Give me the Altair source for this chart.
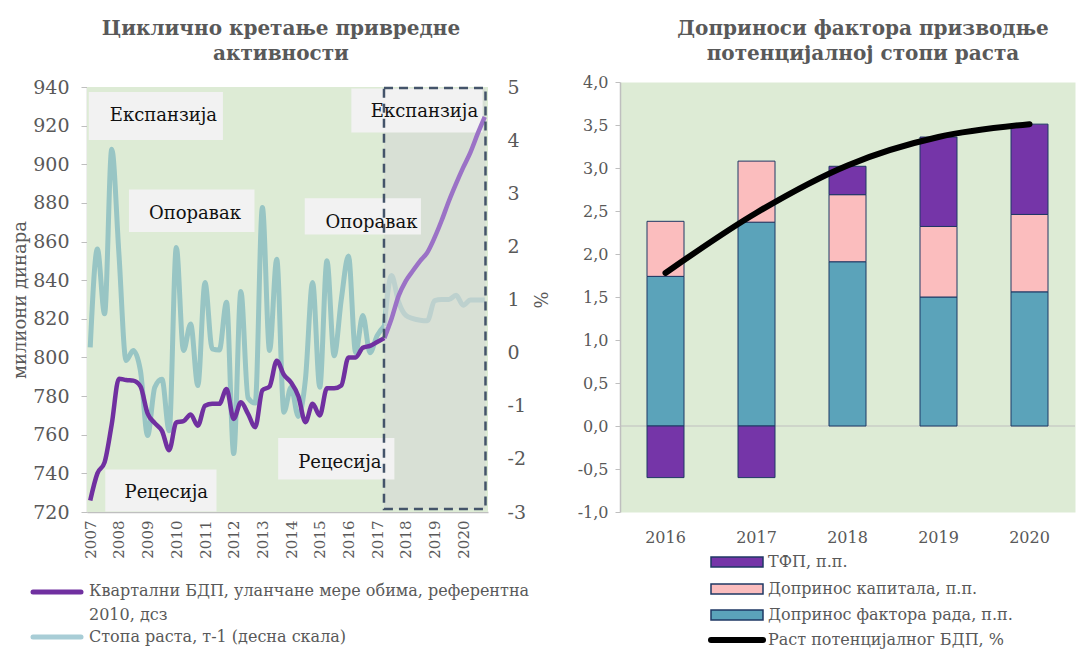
import json
import altair as alt
import pandas as pd

FONT = "DejaVu Serif"
TXT = "#595959"
AXC = "#BFBFBF"
BG = "#DDEBD5"

# ---------------- left chart data ----------------
title_left = ["Циклично кретање привредне", "активности"]
year_labels = ["2007", "2008", "2009", "2010", "2011", "2012", "2013",
               "2014", "2015", "2016", "2017", "2018", "2019", "2020"]
# quarterly GDP (left axis), 2007Q1 .. 2020Q4
gdp = [726, 740, 745.7, 765.5, 789, 788.3, 788, 785, 771, 766, 762, 752,
       766.4, 767, 770.5, 764.7, 775, 776, 776, 783.7, 768.2, 776.8, 770.8, 763.9,
       783, 785, 798.3, 791, 787, 780, 766.5, 776, 770, 784, 784, 785.5,
       800, 800, 805, 806, 808, 810,
       820, 832, 839.7, 845, 850, 854.4, 862, 871, 881, 890, 898.4, 906.2, 915.7, 924.5]
# growth rate q/q-1 (right axis)
growth = [0.10, 1.95, 0.73, 3.83, 1.86, -0.15, 0.04, -0.34, -1.56, -0.65, -0.50, -1.47,
          1.98, 0.04, 0.54, -0.62, 1.32, 0.07, 0.05, 0.95, -1.90, 1.15, -0.85, -0.95,
          2.73, 0.04, 1.76, -1.12, -0.65, -1.20, -0.50, 1.32, -0.65, 1.73, -0.06, 1.00,
          1.82, 0.00, 0.70, 0.00, 0.32, 0.50,
          1.45, 0.95, 0.70, 0.64, 0.61, 0.60, 0.98, 1.00, 1.00, 1.08, 0.89, 0.99, 0.99, 0.99]
proj_start = 41  # first quarter of the projection segment
q_domain = [-0.45, 55.45]
gdp_domain = [720, 940]
growth_domain = [-3, 5]

# cycle-phase annotations (quarter index / left-axis units)
phase_labels = ["Експанзија", "Опоравак", "Рецесија", "Опоравак", "Рецесија", "Експанзија"]
phase_tx = [10.2, 14.6, 10.6, 39.2, 34.8, 46.6]
phase_ty = [925.0, 874.5, 730.0, 869.8, 745.5, 927.2]
box_x1 = [-0.2, 5.4, 2.1, 29.9, 26.2, 36.4]
box_x2 = [18.5, 22.9, 17.6, 46.1, 42.4, 54.7]
box_y1 = [912.6, 865.0, 720.2, 863.7, 736.8, 916.5]
box_y2 = [937.4, 887.0, 742.0, 882.4, 758.3, 939.2]
proj_box = {"x1": [40.95], "x2": [55.1], "y1": [721.6], "y2": [939.5]}

legend_left = ["Квартални БДП, уланчане мере обима, референтна\n2010, дсз",
               "Стопа раста, т-1 (десна скала)"]

# ---------------- right chart data ----------------
title_right = ["Доприноси фактора призводње", "потенцијалној стопи раста"]
cats = ["2016", "2017", "2018", "2019", "2020"]
labour = [1.74, 2.37, 1.91, 1.50, 1.56]
capital = [0.64, 0.71, 0.78, 0.82, 0.90]
tfp = [-0.60, -0.60, 0.33, 1.04, 1.05]
potential = [1.78, 2.48, 3.03, 3.36, 3.51]
comp_names = ["ТФП, п.п.", "Допринос капитала, п.п.", "Допринос фактора рада, п.п."]
line_name = "Раст потенцијалног БДП, %"

# ---------------- layout constants ----------------
H = 430
WL, WR = 401, 455

# ---------------- tables ----------------
rows = []
for i in range(len(gdp)):
    if i <= proj_start:
        rows.append({"q": i, "v": gdp[i], "g": growth[i], "seg": "hist"})
    if i >= proj_start:
        rows.append({"q": i, "v": gdp[i], "g": growth[i], "seg": "proj"})
ts = pd.DataFrame(rows)

boxes = pd.DataFrame({"label": phase_labels, "tx": phase_tx, "ty": phase_ty,
                      "x1": box_x1, "x2": box_x2, "y1": box_y1, "y2": box_y2})
proj_df = pd.DataFrame(proj_box)
bg_df = pd.DataFrame({"x1": [q_domain[0]], "x2": [q_domain[1]],
                      "y1": [gdp_domain[0]], "y2": [gdp_domain[1]]})
one = pd.DataFrame({"a": [0]})

xscale = alt.Scale(domain=q_domain, nice=False, zero=False)
x_axis = alt.Axis(values=list(range(0, 56, 4)),
                  labelExpr=json.dumps(year_labels) + "[datum.value / 4]",
                  labelAngle=270, labelFontSize=15, labelColor=TXT, labelPadding=8,
                  ticks=False, domainColor=AXC, domainWidth=1.5, grid=False)
yscale = alt.Scale(domain=gdp_domain, nice=False, zero=False, range=[H, 5])
y_axis = alt.Axis(values=list(range(720, 941, 20)), title="милиони динара",
                  titleFontSize=18, titleColor=TXT, titleFontWeight="normal", titlePadding=3,
                  labelFontSize=19, labelColor=TXT, labelPadding=12, tickSize=6,
                  tickColor=AXC, domainColor=AXC, domainWidth=1.5, grid=False)
g_axis = alt.Axis(values=list(range(-3, 6)), orient="right", title="%",
                  labelExpr="replace(format(datum.value, 'd'), '\u2212', '-')",
                  titleFontSize=18, titleColor=TXT, titleFontWeight="normal", titlePadding=4,
                  labelFontSize=19, labelColor=TXT, labelPadding=19, ticks=False,
                  domain=False, grid=False)


def X(field):
    return alt.X(field, scale=xscale, axis=x_axis, title=None)


def Y(field):
    return alt.Y(field, scale=yscale, axis=y_axis)


background = alt.Chart(bg_df).mark_rect(fill=BG).encode(
    x=X("x1:Q"), x2="x2",
    y=alt.Y("y1:Q", scale=yscale, axis=None), y2="y2")
shade = alt.Chart(proj_df).mark_rect(fill="#D5D8D5", opacity=0.6).encode(
    x=X("x1:Q"), x2="x2", y=Y("y1:Q"), y2="y2")
box_rects = alt.Chart(boxes).mark_rect(fill="#F2F2F2").encode(
    x=X("x1:Q"), x2="x2", y=Y("y1:Q"), y2="y2")
box_text = alt.Chart(boxes).mark_text(fontSize=18, color="#111111").encode(
    x=X("tx:Q"), y=Y("ty:Q"), text="label:N")
purple_hist = alt.Chart(ts).transform_filter(alt.datum.seg == "hist").mark_line(
    strokeWidth=4.5, interpolate="monotone", color="#7030A0").encode(x=X("q:Q"), y=Y("v:Q"))
purple_proj = alt.Chart(ts).transform_filter(alt.datum.seg == "proj").mark_line(
    strokeWidth=4.5, interpolate="monotone", color="#9B72C6").encode(x=X("q:Q"), y=Y("v:Q"))
dashed = alt.Chart(proj_df).mark_rect(fill="transparent", stroke="#44546A",
                                      strokeWidth=2.5, strokeDash=[9, 6]).encode(
    x=X("x1:Q"), x2="x2", y=Y("y1:Q"), y2="y2")

title_l = alt.Chart(one).mark_text(fontSize=20, fontWeight="bold", color=TXT,
                                   lineBreak="\n", lineHeight=25, baseline="top").encode(
    x=alt.value(194), y=alt.value(-63), text=alt.value("\n".join(title_left)))

leg_l = [
    alt.Chart(one).mark_rule(color="#7030A0", strokeWidth=5, strokeCap="round").encode(
        x=alt.value(-54), x2=alt.value(-6), y=alt.value(510)),
    alt.Chart(one).mark_text(align="left", baseline="top", fontSize=16, color=TXT,
                             lineBreak="\n", lineHeight=24).encode(
        x=alt.value(2), y=alt.value(501), text=alt.value(legend_left[0])),
    alt.Chart(one).mark_rule(color="#A8CDD6", strokeWidth=5, strokeCap="round").encode(
        x=alt.value(-54), x2=alt.value(-6), y=alt.value(555)),
    alt.Chart(one).mark_text(align="left", baseline="middle", fontSize=16, color=TXT).encode(
        x=alt.value(2), y=alt.value(555), text=alt.value(legend_left[1])),
]

inner = alt.layer(shade, box_rects, box_text, purple_hist, purple_proj,
                  dashed, title_l, *leg_l)

teal = alt.Chart(ts).mark_line(strokeWidth=5, interpolate="monotone", color="#98C5C4").encode(
    x=X("q:Q"),
    y=alt.Y("g:Q", scale=alt.Scale(domain=growth_domain, nice=False, zero=False, range=[H, 5]),
            axis=g_axis),
    detail="seg:N")

left = alt.layer(background, teal, inner).resolve_scale(y="independent").properties(
    width=WL, height=H)

# ---------------- right chart ----------------
contrib = pd.DataFrame({
    "year": cats * 3,
    "comp": [comp_names[2]] * 5 + [comp_names[1]] * 5 + [comp_names[0]] * 5,
    "val": labour + capital + tfp,
    "ord": [0] * 5 + [1] * 5 + [2] * 5,
})
pot_df = pd.DataFrame({"year": cats, "pot": potential})
comp_colors = ["#7535A8", "#FBBDBE", "#5BA3BA"]

xr_axis = alt.Axis(labelAngle=0, labelFontSize=16, labelColor=TXT, labelPadding=17,
                   ticks=False, domain=False, grid=False)
yr_scale = alt.Scale(domain=[-1, 4], nice=False, zero=False)
yr_axis = alt.Axis(values=[-1, -0.5, 0, 0.5, 1, 1.5, 2, 2.5, 3, 3.5, 4],
                   labelExpr="replace(replace(format(datum.value, '.1f'), '.', ','), '\u2212', '-')",
                   labelFontSize=16, labelColor=TXT, labelPadding=7, tickSize=5,
                   tickColor=AXC, domainColor=AXC, domainWidth=1.5, grid=False)
xr = alt.X("year:N", sort=cats, scale=alt.Scale(paddingInner=0, paddingOuter=0),
           axis=xr_axis, title=None)

zero_rule = alt.Chart(pd.DataFrame({"z": [0]})).mark_rule(color="#BFBFBF", strokeWidth=1.2).encode(
    y=alt.Y("z:Q", scale=yr_scale, axis=yr_axis, title=None))
bars = alt.Chart(contrib).mark_bar(size=37, stroke="#1F3864", strokeWidth=1).encode(
    x=xr,
    y=alt.Y("val:Q", stack="zero", scale=yr_scale, axis=yr_axis, title=None),
    color=alt.Color("comp:N", scale=alt.Scale(domain=comp_names, range=comp_colors), legend=None),
    order=alt.Order("ord:Q"))
pline = alt.Chart(pot_df).mark_line(color="black", strokeWidth=6, strokeCap="round",
                                    interpolate="monotone").encode(
    x=xr, y=alt.Y("pot:Q", scale=yr_scale, axis=yr_axis, title=None))

title_r = alt.Chart(one).mark_text(fontSize=20, fontWeight="bold", color=TXT,
                                   lineBreak="\n", lineHeight=25, baseline="top").encode(
    x=alt.value(243), y=alt.value(-63), text=alt.value("\n".join(title_right)))

leg_r = []
row_y = [480, 507, 533, 558]
for k, name in enumerate(comp_names):
    leg_r.append(alt.Chart(one).mark_rect(fill=comp_colors[k], stroke="#1F3864",
                                           strokeWidth=1.5).encode(
        x=alt.value(91), x2=alt.value(143), y=alt.value(row_y[k] - 5), y2=alt.value(row_y[k] + 5)))
    leg_r.append(alt.Chart(one).mark_text(align="left", baseline="middle", fontSize=16,
                                           color=TXT).encode(
        x=alt.value(148), y=alt.value(row_y[k]), text=alt.value(name)))
leg_r.append(alt.Chart(one).mark_rule(color="black", strokeWidth=6, strokeCap="round").encode(
    x=alt.value(91), x2=alt.value(143), y=alt.value(row_y[3])))
leg_r.append(alt.Chart(one).mark_text(align="left", baseline="middle", fontSize=16,
                                       color=TXT).encode(
    x=alt.value(148), y=alt.value(row_y[3]), text=alt.value(line_name)))

right = alt.layer(zero_rule, bars, pline, title_r, *leg_r).properties(
    width=WR, height=H, view=alt.ViewBackground(fill=BG, stroke="transparent"))

chart = alt.hconcat(left, right, spacing=27).resolve_scale(color="independent").properties(
    padding={"left": 3, "top": 10, "right": 0, "bottom": 0}
).configure(font=FONT).configure_view(stroke="transparent")

chart.save("out.html", embed_options={"renderer": "svg", "actions": False})
